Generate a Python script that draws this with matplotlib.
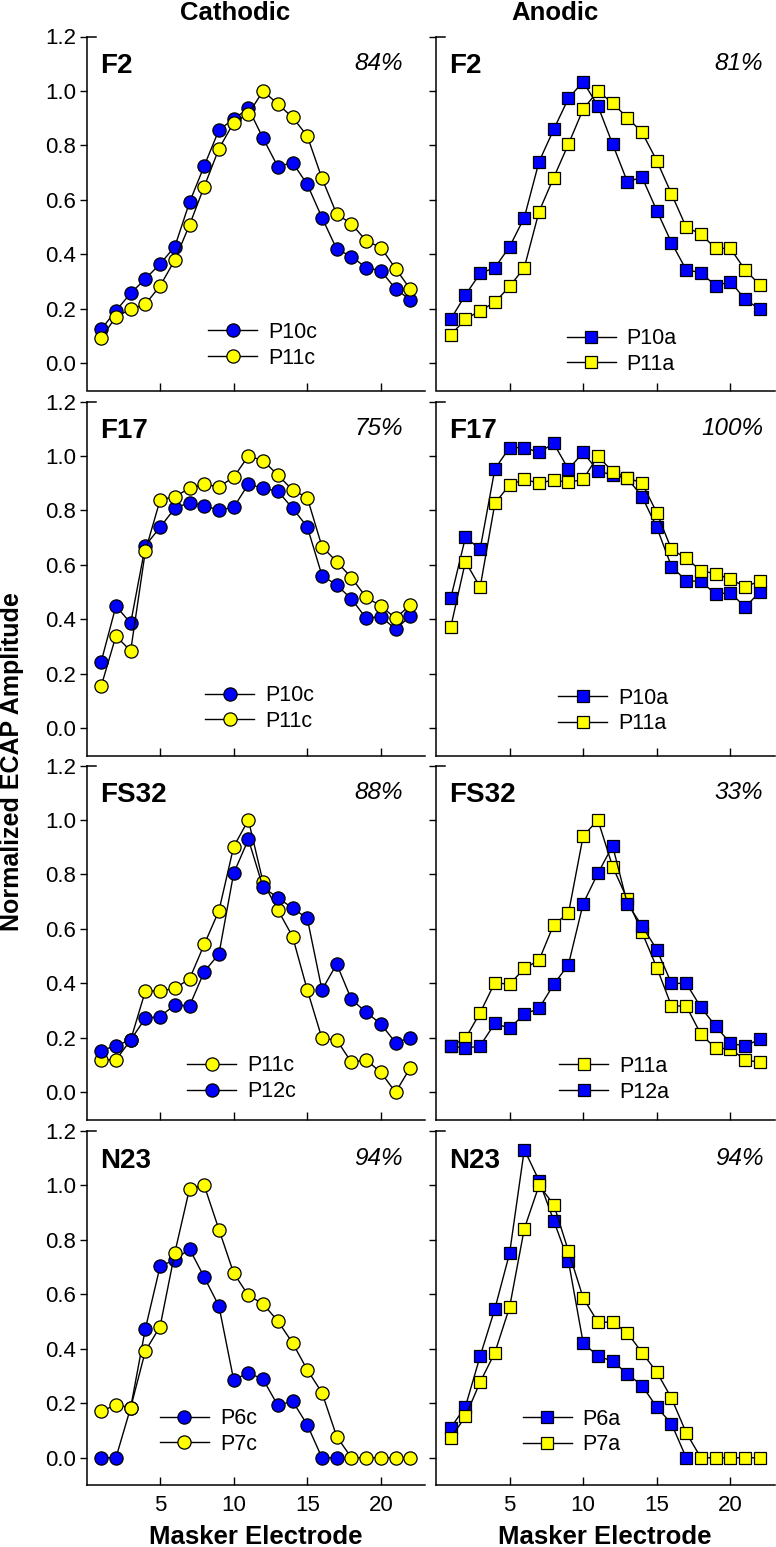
import matplotlib
matplotlib.use("Agg")
import matplotlib.pyplot as plt

plt.rcParams['font.family'] = ['Liberation Sans', 'DejaVu Sans']

# masker electrodes 1..22
electrodes = list(range(1, 23))

# F2
f2_p10c = [0.125, 0.193, 0.257, 0.31, 0.365, 0.428, 0.591, 0.725, 0.857, 0.897, 0.936,
           0.826, 0.722, 0.737, 0.657, 0.535, 0.419, 0.392, 0.351, 0.34, 0.273, 0.233]
f2_p11c = [0.092, 0.171, 0.198, 0.217, 0.284, 0.379, 0.508, 0.649, 0.788, 0.884, 0.916,
           1.0, 0.952, 0.903, 0.835, 0.679, 0.548, 0.512, 0.45, 0.425, 0.348, 0.272]
f2_p10a = [0.162, 0.251, 0.33, 0.351, 0.428, 0.535, 0.74, 0.859, 0.973, 1.034, 0.945,
           0.805, 0.667, 0.683, 0.561, 0.443, 0.343, 0.333, 0.284, 0.30, 0.235, 0.198]
f2_p11a = [0.104, 0.162, 0.193, 0.224, 0.282, 0.351, 0.557, 0.682, 0.805, 0.933, 1.0,
           0.955, 0.902, 0.848, 0.744, 0.622, 0.50, 0.474, 0.422, 0.422, 0.343, 0.288]

# F17
f17_p10c = [0.245, 0.449, 0.386, 0.671, 0.738, 0.808, 0.829, 0.816, 0.802, 0.811, 0.897,
            0.881, 0.871, 0.808, 0.74, 0.561, 0.526, 0.475, 0.404, 0.41, 0.364, 0.412]
f17_p11c = [0.155, 0.339, 0.284, 0.651, 0.838, 0.851, 0.881, 0.896, 0.887, 0.922, 1.0,
            0.983, 0.93, 0.875, 0.847, 0.667, 0.612, 0.553, 0.481, 0.449, 0.404, 0.453]
f17_p10a = [0.477, 0.701, 0.658, 0.952, 1.031, 1.031, 1.013, 1.046, 0.951, 1.013, 0.945,
            0.93, 0.918, 0.851, 0.738, 0.594, 0.542, 0.539, 0.493, 0.498, 0.445, 0.50]
f17_p11a = [0.371, 0.612, 0.518, 0.826, 0.894, 0.914, 0.90, 0.912, 0.903, 0.914, 1.0,
            0.942, 0.92, 0.90, 0.792, 0.657, 0.624, 0.579, 0.567, 0.548, 0.52, 0.54]

# FS32
fs32_p11c = [0.119, 0.119, 0.192, 0.372, 0.372, 0.382, 0.416, 0.543, 0.667, 0.902, 1.0,
             0.771, 0.67, 0.572, 0.376, 0.198, 0.192, 0.11, 0.119, 0.073, 0.0, 0.09]
fs32_p12c = [0.153, 0.171, 0.192, 0.272, 0.278, 0.321, 0.317, 0.443, 0.508, 0.804, 0.929,
             0.752, 0.715, 0.676, 0.639, 0.376, 0.471, 0.341, 0.294, 0.251, 0.182, 0.20]
fs32_p11a = [0.171, 0.198, 0.292, 0.403, 0.396, 0.455, 0.485, 0.616, 0.657, 0.941, 1.0,
             0.829, 0.709, 0.587, 0.458, 0.317, 0.317, 0.213, 0.162, 0.16, 0.119, 0.11]
fs32_p12a = [0.171, 0.161, 0.171, 0.253, 0.235, 0.287, 0.308, 0.396, 0.469, 0.693, 0.804,
             0.905, 0.693, 0.611, 0.524, 0.40, 0.40, 0.312, 0.243, 0.18, 0.17, 0.195]

# N23
n23_p6c = [0.0, 0.0, 0.184, 0.474, 0.703, 0.727, 0.767, 0.663, 0.557, 0.286, 0.312,
           0.288, 0.192, 0.208, 0.121, 0.0, 0.0]
n23_p7c = [0.17, 0.195, 0.184, 0.392, 0.482, 0.753, 0.988, 1.0, 0.838, 0.678, 0.596,
           0.565, 0.502, 0.422, 0.323, 0.239, 0.078, 0.0, 0.0, 0.0, 0.0, 0.0]
n23_p6a = [0.11, 0.188, 0.373, 0.547, 0.751, 1.132, 1.018, 0.871, 0.722, 0.422, 0.373,
           0.355, 0.308, 0.265, 0.186, 0.125, 0.0]
n23_p7a = [0.072, 0.152, 0.278, 0.386, 0.553, 0.841, 1.0, 0.93, 0.759, 0.587, 0.498,
           0.498, 0.459, 0.386, 0.315, 0.219, 0.092, 0.0, 0.0, 0.0, 0.0, 0.0]

fibers = ['F2', 'F17', 'FS32', 'N23']
pct_cathodic = ['84%', '75%', '88%', '94%']
pct_anodic = ['81%', '100%', '33%', '94%']

BLUE = '#0000ff'
YELLOW = '#ffff00'

# (series list, legend anchor) for each panel, row by row
panels = [
    [([(f2_p10c, 'P10c', BLUE), (f2_p11c, 'P11c', YELLOW)], (0.359, 0.128)),
     ([(f2_p10a, 'P10a', BLUE), (f2_p11a, 'P11a', YELLOW)], (0.386, 0.110))],
    [([(f17_p10c, 'P10c', BLUE), (f17_p11c, 'P11c', YELLOW)], (0.350, 0.133)),
     ([(f17_p10a, 'P10a', BLUE), (f17_p11a, 'P11a', YELLOW)], (0.361, 0.126))],
    [([(fs32_p11c, 'P11c', YELLOW), (fs32_p12c, 'P12c', BLUE)], (0.298, 0.115)),
     ([(fs32_p11a, 'P11a', YELLOW), (fs32_p12a, 'P12a', BLUE)], (0.364, 0.114))],
    [([(n23_p6c, 'P6c', BLUE), (n23_p7c, 'P7c', YELLOW)], (0.217, 0.151)),
     ([(n23_p6a, 'P6a', BLUE), (n23_p7a, 'P7a', YELLOW)], (0.256, 0.150))],
]

W, H = 776, 1547
fig = plt.figure(figsize=(W / 100, H / 100), dpi=100)

col_left = [86.5, 436]
col_w = 338.5
row_bottom = [390.5, 755.5, 1119.5, 1485]
row_h = 354

for r in range(4):
    for c in range(2):
        ax = fig.add_axes([col_left[c] / W, 1 - row_bottom[r] / H, col_w / W, row_h / H])
        series, anchor = panels[r][c]
        marker = 'o' if c == 0 else 's'
        ms = 9.5 if c == 0 else 8.5
        for vals, label, color in series:
            ax.plot(electrodes[:len(vals)], vals, color='black', lw=1.0, marker=marker,
                    ms=ms, mfc=color, mec='black', mew=0.9, label=label, clip_on=False)

        ax.set_xlim(0, 23)
        ax.set_ylim(-0.1, 1.2)
        ax.set_xticks([5, 10, 15, 20])
        ax.set_yticks([0.0, 0.2, 0.4, 0.6, 0.8, 1.0, 1.2])
        ax.yaxis.set_major_formatter(plt.FormatStrFormatter('%.1f'))
        for s in ['top', 'right']:
            ax.spines[s].set_visible(False)
        for s in ['left', 'bottom']:
            ax.spines[s].set_linewidth(1.1)
        ax.tick_params(axis='y', direction='out', length=5, width=1, labelsize=16, pad=2.5)
        ax.tick_params(axis='x', direction='in', length=6, width=1, labelsize=16, pad=7)
        if c == 1:
            ax.tick_params(axis='y', labelleft=False)
        if r < 3:
            ax.tick_params(axis='x', labelbottom=False)
        # small stub at the top of the y axis
        ax.plot([0, 0.027], [1, 1], transform=ax.transAxes, color='black', lw=1.1,
                clip_on=False)

        ax.text(0.04, 0.896, fibers[r], transform=ax.transAxes, fontsize=20,
                weight='bold', ha='left', va='baseline')
        pct = pct_cathodic[r] if c == 0 else pct_anodic[r]
        ax.text(0.935 if c == 0 else 0.967, 0.905, pct, transform=ax.transAxes,
                fontsize=17.5, style='italic', ha='right', va='baseline')

        ax.legend(loc='center left', bbox_to_anchor=anchor, frameon=False, fontsize=15.5,
                  handlelength=2.28, handletextpad=0.5, labelspacing=0.22,
                  borderpad=0, borderaxespad=0, numpoints=1)

fig.text(235 / W, 1 - 19.5 / H, 'Cathodic', ha='center', va='baseline',
         fontsize=18.5, weight='bold')
fig.text(555 / W, 1 - 19.5 / H, 'Anodic', ha='center', va='baseline',
         fontsize=18.5, weight='bold')
fig.text(12 / W, 1 - 762 / H, 'Normalized ECAP Amplitude', rotation=90,
         ha='center', va='center', fontsize=18, weight='bold')
fig.text(256 / W, 1 - 1544 / H, 'Masker Electrode', ha='center', va='baseline',
         fontsize=18.5, weight='bold')
fig.text(605 / W, 1 - 1544 / H, 'Masker Electrode', ha='center', va='baseline',
         fontsize=18.5, weight='bold')

fig.savefig('out.png', dpi=100)
